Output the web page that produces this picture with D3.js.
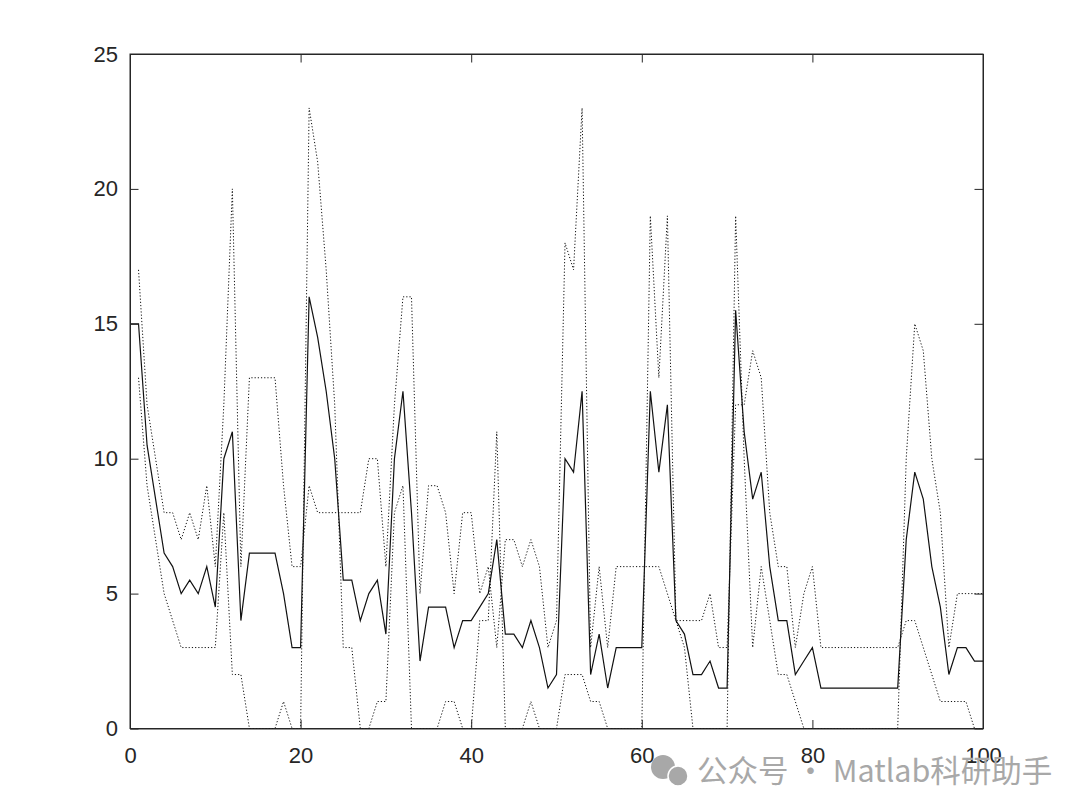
<!DOCTYPE html>
<html><head><meta charset="utf-8">
<script src="https://cdn.jsdelivr.net/npm/d3@7"></script>
<style>
html,body{margin:0;padding:0;background:#fff;}
svg{display:block;}
</style></head>
<body>
<script>
// ---------- data ----------
const xDotted = d3.range(1, 101);
const seriesP = [17,12,10,8,8,7,8,7,9,6, 12,20,6,13,13,13,13,9,6,6,
                 9,8,8,8,8,8,8,10,10,6, 12,16,16,5,9,9,8,5,8,8,
                 5,6,3,7,7,6,7,6,3,4, 18,17,23,3,6,3,6,6,6,6,
                 6,6,5,4,4,4,4,5,3,3, 12,12,14,13,8,6,6,3,5,6,
                 3,3,3,3,3,3,3,3,3,3, 4,4,3,2,1,1,1,1,0,0];
const seriesQ = [13,9,7,5,4,3,3,3,3,3, 8,2,2,0,0,0,0,1,0,0,
                 23,21,17,12,3,3,0,0,1,1, 8,9,0,0,0,0,1,1,0,0,
                 4,4,11,0,0,0,1,0,0,0, 2,2,2,1,1,0,0,0,0,0,
                 19,13,19,4,3,0,0,0,0,0, 19,10,3,6,4,2,2,1,0,0,
                 0,0,0,0,0,0,0,0,0,0, 10,15,14,10,8,3,5,5,5,5];
const xSolid = d3.range(0, 101);
const seriesM = [15, 15,10.5,8.5,6.5,6,5,5.5,5,6,4.5, 10,11,4,6.5,6.5,6.5,6.5,5,3,3,
                 16,14.5,12.5,10,5.5,5.5,4,5,5.5,3.5, 10,12.5,8,2.5,4.5,4.5,4.5,3,4,4,
                 4.5,5,7,3.5,3.5,3,4,3,1.5,2, 10,9.5,12.5,2,3.5,1.5,3,3,3,3,
                 12.5,9.5,12,4,3.5,2,2,2.5,1.5,1.5, 15.5,11,8.5,9.5,6,4,4,2,2.5,3,
                 1.5,1.5,1.5,1.5,1.5,1.5,1.5,1.5,1.5,1.5, 7,9.5,8.5,6,4.5,2,3,3,2.5,2.5];
const xTicks = [0,20,40,60,80,100];
const yTicks = [0,5,10,15,20,25];
const watermark = "公众号 · Matlab科研助手";

// ---------- layout ----------
const W = 1080, H = 811;
const L = 130, R = 983, T = 54, B = 728.5;
const axisColor = "#262626";

const svg = d3.select("body").append("svg").attr("width", W).attr("height", H);

const x = d3.scaleLinear().domain([0, 100]).range([L, R]);
const y = d3.scaleLinear().domain([0, 25]).range([B, T]);

// box
svg.append("rect").attr("x", L).attr("y", T).attr("width", R - L).attr("height", B - T)
  .attr("fill", "#fff").attr("stroke", axisColor).attr("stroke-width", 1);

const line = d3.line().x(d => x(d[0])).y(d => y(d[1]));

svg.append("clipPath").attr("id", "c").append("rect")
  .attr("x", L).attr("y", T - 1).attr("width", R - L).attr("height", B - T + 2);
const g = svg.append("g").attr("clip-path", "url(#c)");

[seriesP, seriesQ].forEach(s => {
  g.append("path").datum(xDotted.map((xx, i) => [xx, s[i]]))
    .attr("d", line).attr("fill", "none")
    .attr("stroke", "#111").attr("stroke-width", 1)
    .attr("stroke-dasharray", "1.2,2");
});
g.append("path").datum(xSolid.map((xx, i) => [xx, seriesM[i]]))
  .attr("d", line).attr("fill", "none")
  .attr("stroke", "#111").attr("stroke-width", 1.2).attr("stroke-linejoin", "miter");

// axes (ticks inward)
const font = "'Liberation Sans', Arial, Helvetica, sans-serif";
const tickLen = 8.5;
const axB = svg.append("g").attr("transform", `translate(0,${B})`)
  .call(d3.axisBottom(x).tickValues(xTicks).tickSizeInner(-tickLen).tickSizeOuter(0).tickPadding(19).tickFormat(d3.format("d")));
const axT = svg.append("g").attr("transform", `translate(0,${T})`)
  .call(d3.axisTop(x).tickValues(xTicks).tickSizeInner(-tickLen).tickSizeOuter(0).tickFormat(""));
const axL = svg.append("g").attr("transform", `translate(${L},0)`)
  .call(d3.axisLeft(y).tickValues(yTicks).tickSizeInner(-tickLen).tickSizeOuter(0).tickPadding(20).tickFormat(d3.format("d")));
const axR = svg.append("g").attr("transform", `translate(${R},0)`)
  .call(d3.axisRight(y).tickValues(yTicks).tickSizeInner(-tickLen).tickSizeOuter(0).tickFormat(""));
[axB, axT, axL, axR].forEach(a => {
  a.select(".domain").attr("stroke", axisColor);
  a.selectAll(".tick line").attr("stroke", axisColor);
  a.selectAll("text").attr("fill", axisColor).style("font-family", font).style("font-size", "22px");
});
axL.selectAll("text").attr("dx", "8px");

// watermark
const wm = svg.append("g");
wm.append("circle").attr("cx", 663).attr("cy", 767).attr("r", 12).attr("fill", "#a8a8a8");
wm.append("circle").attr("cx", 678).attr("cy", 776).attr("r", 10).attr("fill", "#a8a8a8").attr("stroke", "#fff").attr("stroke-width", 1.5);
wm.append("text").attr("x", 697).attr("y", 782).text(watermark)
  .attr("fill", "#a8a8a8").style("font-family", "'Noto Sans CJK SC', 'Noto Sans', sans-serif").style("font-size", "30.5px");
</script>
</body></html>
